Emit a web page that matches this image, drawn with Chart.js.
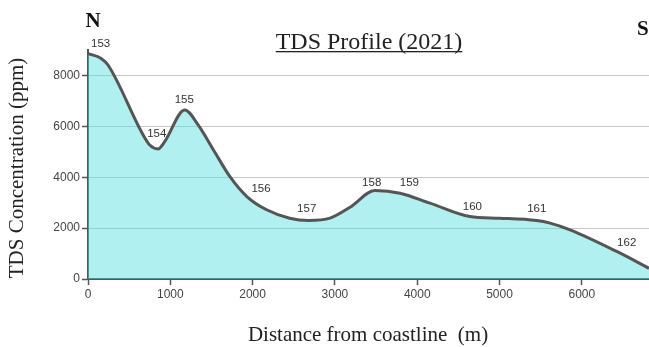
<!DOCTYPE html>
<html>
<head>
<meta charset="utf-8">
<script src="https://cdn.jsdelivr.net/npm/chart.js@4"></script>
<style>
  html, body { margin: 0; padding: 0; background: #fff; }
  #wrap { width: 649px; height: 347px; }
</style>
</head>
<body>
<div id="wrap"><canvas id="chart" width="649" height="347"></canvas></div>
<script>
// ===== data =====
const distance = [0, 160, 245, 670, 750, 850, 930, 1175, 1340, 1525, 1725, 1930, 2170, 2450, 2680, 2940, 3184, 3487, 3790, 4155, 4640, 5000, 5450, 5614, 5857, 6424, 6816];
const tds      = [8860, 8670, 8400, 5660, 5265, 5110, 5390, 6640, 6050, 5070, 4020, 3240, 2720, 2390, 2300, 2392, 2823, 3475, 3373, 2980, 2455, 2390, 2298, 2196, 1933, 1082, 420];

// well numbers and where their labels sit (m, ppm)
const wellNames  = ['153', '154', '155', '156', '157', '158', '159', '160', '161', '162'];
const wellX      = [154, 836, 1170, 2102, 2657, 3447, 3904, 4670, 5452, 6545];
const wellLabelY = [9227, 5694, 7059, 3529, 2757, 3789, 3765, 2847, 2745, 1435];

const xTicks = [0, 1000, 2000, 3000, 4000, 5000, 6000];
const yTicks = [0, 2000, 4000, 6000, 8000];

const chartTitle = 'TDS Profile (2021)';
const xTitle = 'Distance from coastline  (m)';
const yTitle = 'TDS Concentration (ppm)';

// ===== text drawn on top =====
const textPlugin = {
    id: 'textPlugin',
    afterDraw(chart) {
        const ctx = chart.ctx;
        const xs = chart.scales.x, ys = chart.scales.y;
        ctx.save();

        // well labels
        ctx.font = '11.5px "Liberation Sans", Arial, sans-serif';
        ctx.fillStyle = '#333';
        ctx.textAlign = 'center';
        ctx.textBaseline = 'middle';
        wellNames.forEach((n, i) => {
            ctx.fillText(n, xs.getPixelForValue(wellX[i]), ys.getPixelForValue(wellLabelY[i]));
        });

        // title (underlined)
        ctx.font = '24px "Liberation Serif", "Times New Roman", serif';
        ctx.fillStyle = '#222';
        ctx.textBaseline = 'alphabetic';
        ctx.fillText(chartTitle, 369, 49);
        const w = ctx.measureText(chartTitle).width;
        ctx.fillRect(369 - w / 2, 51, w, 1.3);

        // N / S
        ctx.font = 'bold 21px "Liberation Serif", "Times New Roman", serif';
        ctx.fillStyle = '#111';
        ctx.fillText('N', 93, 27);
        ctx.textAlign = 'left';
        ctx.fillText('S', 637, 35);

        // axis titles
        ctx.font = '21px "Liberation Serif", "Times New Roman", serif';
        ctx.textAlign = 'center';
        ctx.fillStyle = '#222';
        ctx.fillText(xTitle, 368, 341);

        ctx.translate(17, 168);
        ctx.rotate(-Math.PI / 2);
        ctx.textBaseline = 'middle';
        ctx.fillText(yTitle, 0, 0);
        ctx.restore();
    }
};

const plainTick = v => String(v);

new Chart(document.getElementById('chart'), {
    type: 'line',
    data: {
        datasets: [{
            data: distance.map((d, i) => ({ x: d, y: tds[i] })),
            borderColor: '#555',
            backgroundColor: 'rgba(80, 222, 222, 0.45)',
            borderWidth: 3,
            pointRadius: 0,
            cubicInterpolationMode: 'monotone',
            fill: 'origin'
        }]
    },
    options: {
        responsive: false,
        animation: false,
        layout: { padding: { top: 50, left: 0, right: 0, bottom: 0 } },
        plugins: { legend: { display: false }, tooltip: { enabled: false }, title: { display: false } },
        scales: {
            x: {
                type: 'linear',
                min: 0, max: 6816,
                afterBuildTicks: axis => { axis.ticks = xTicks.map(v => ({ value: v })); },
                afterFit: axis => { axis.height = 68; },
                border: { color: '#555', width: 2 },
                grid: { drawOnChartArea: false, tickLength: 6, tickColor: '#555', tickWidth: 1.5 },
                ticks: { color: '#444', padding: 2, maxRotation: 0, callback: plainTick,
                         font: { family: '"Liberation Sans", Arial, sans-serif', size: 12 } }
            },
            y: {
                min: 0, max: 9000,
                afterBuildTicks: axis => { axis.ticks = yTicks.map(v => ({ value: v })); },
                afterFit: axis => { axis.width = 88; },
                border: { color: '#555', width: 2 },
                grid: {
                    color: c => c.tick && c.tick.value === 0 ? 'rgba(0,0,0,0)' : '#c8c8c8',
                    tickLength: 6, tickColor: '#555', tickWidth: 1.5
                },
                ticks: { color: '#444', padding: 2, callback: plainTick,
                         font: { family: '"Liberation Sans", Arial, sans-serif', size: 12 } }
            }
        }
    },
    plugins: [textPlugin]
});
</script>
</body>
</html>
